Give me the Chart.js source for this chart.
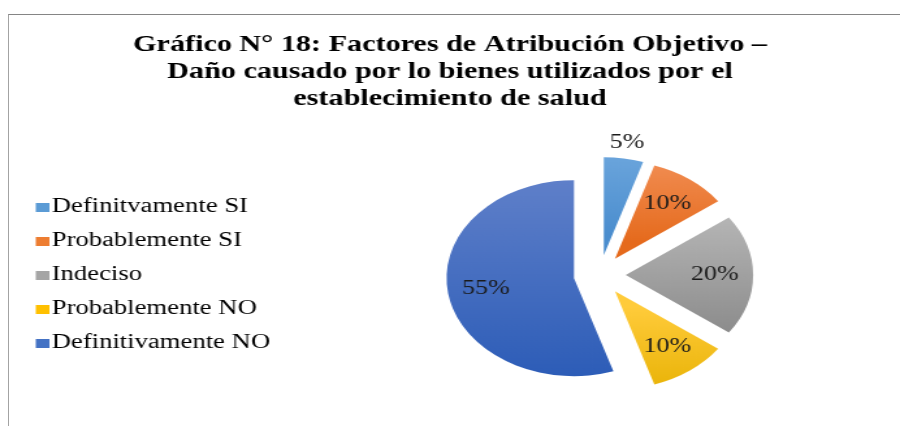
<!DOCTYPE html>
<html lang="es">
<head>
    <meta charset="UTF-8">
    <title>Gráfico N° 18</title>
    <script src="https://cdn.jsdelivr.net/npm/chart.js"></script>
    <style>
        html, body {
            margin: 0;
            padding: 0;
            background: #fff;
        }
        body {
            width: 900px;
            height: 426px;
            position: relative;
            overflow: hidden;
        }
        .frame {
            position: absolute;
            left: 8px;
            top: 14px;
            width: 892px;
            height: 412px;
            border-top: 1px solid #858585;
            border-left: 1px solid #a3a3a3;
        }
        /* the original picture is stretched sideways, so the chart is too */
        .chart-box {
            position: absolute;
            left: 0;
            top: 0;
            width: 692px;
            height: 426px;
            transform: scaleX(1.3006);
            transform-origin: 0 0;
        }
    </style>
</head>
<body>
    <div class="frame"></div>
    <div class="chart-box">
        <canvas id="pieChart"></canvas>
    </div>

    <script>
        const categories = ['Definitvamente SI', 'Probablemente SI', 'Indeciso', 'Probablemente NO', 'Definitivamente NO'];
        const percentages = [5, 10, 20, 10, 55];
        const titleLines = [
            'Gráfico N° 18: Factores de Atribución Objetivo –',
            'Daño causado por lo bienes utilizados por el',
            'establecimiento de salud'
        ];

        const baseColors = ['#5B9BD5', '#ED7D31', '#A5A5A5', '#FFC000', '#4472C4'];
        const topColors = ['#72AADF', '#F3925A', '#B5B5B5', '#FFCB3A', '#5E7FC9'];
        const bottomColors = ['#4A8DCE', '#E56A1C', '#8C8C8C', '#E6B000', '#2C5CB7'];

        const PIE_RADIUS = 98;
        const EXPLODE = 20;
        const serif = "'Liberation Serif', 'Times New Roman', serif";

        const total = percentages.reduce((a, b) => a + b, 0);

        // vertical gradient per slice, like the office chart
        function sliceFill(c) {
            const i = c.dataIndex;
            const area = c.chart.chartArea;
            if (!area) return baseColors[i];
            const before = percentages.slice(0, i).reduce((a, b) => a + b, 0);
            const a0 = -Math.PI / 2 + 2 * Math.PI * before / total;
            const a1 = a0 + 2 * Math.PI * percentages[i] / total;
            const mid = (a0 + a1) / 2;
            const cy = (area.top + area.bottom) / 2 + Math.sin(mid) * EXPLODE;
            const ys = [cy];
            for (let k = 0; k <= 24; k++) {
                ys.push(cy + Math.sin(a0 + (a1 - a0) * k / 24) * PIE_RADIUS);
            }
            const g = c.chart.ctx.createLinearGradient(0, Math.min(...ys), 0, Math.max(...ys));
            g.addColorStop(0, topColors[i]);
            g.addColorStop(1, bottomColors[i]);
            return g;
        }

        // small legend swatch sitting close to its text
        function swatch(color) {
            const c = document.createElement('canvas');
            c.width = 32;
            c.height = 9;
            const g = c.getContext('2d');
            g.fillStyle = color;
            g.fillRect(22, 0, 10, 9);
            return c;
        }
        const swatches = baseColors.map(swatch);

        const widenLegend = {
            id: 'widenLegend',
            beforeInit(chart) {
                const fit = chart.legend.fit;
                chart.legend.fit = function () {
                    fit.call(this);
                    this.width += 12.5;
                };
            }
        };

        // exploded slices + percentage labels
        const explodedPie = {
            id: 'explodedPie',
            beforeDatasetDraw(chart, args) {
                const ctx = chart.ctx;
                args.meta.data.forEach((arc) => {
                    const mid = (arc.startAngle + arc.endAngle) / 2;
                    ctx.save();
                    ctx.translate(Math.cos(mid) * EXPLODE, Math.sin(mid) * EXPLODE);
                    arc.draw(ctx);
                    ctx.restore();
                });
                return false;
            },
            afterDatasetsDraw(chart) {
                const ctx = chart.ctx;
                const meta = chart.getDatasetMeta(0);
                ctx.save();
                ctx.font = '20px ' + serif;
                ctx.fillStyle = '#1a1a1a';
                ctx.textAlign = 'center';
                ctx.textBaseline = 'middle';
                meta.data.forEach((arc, i) => {
                    const mid = (arc.startAngle + arc.endAngle) / 2;
                    const r = percentages[i] / total < 0.08
                        ? arc.outerRadius + EXPLODE + 16
                        : EXPLODE + 0.7 * arc.outerRadius;
                    ctx.fillText(percentages[i] + '%', arc.x + Math.cos(mid) * r, arc.y + Math.sin(mid) * r);
                });
                ctx.restore();
            }
        };

        const ctx = document.getElementById('pieChart').getContext('2d');
        new Chart(ctx, {
            type: 'pie',
            data: {
                labels: categories,
                datasets: [{
                    data: percentages,
                    backgroundColor: sliceFill,
                    borderWidth: 0,
                    hoverOffset: 0,
                    radius: PIE_RADIUS
                }]
            },
            options: {
                responsive: true,
                maintainAspectRatio: false,
                animation: false,
                events: [],
                layout: { padding: 0 },
                plugins: {
                    title: {
                        display: true,
                        text: titleLines,
                        color: '#000',
                        font: { family: serif, size: 23.2, weight: 'bold', lineHeight: '27px' },
                        padding: { top: 31.5, bottom: 11.5 }
                    },
                    legend: {
                        display: true,
                        position: 'left',
                        align: 'center',
                        fullSize: false,
                        labels: {
                            usePointStyle: true,
                            pointStyleWidth: 16,
                            padding: 13.5,
                            color: '#1a1a1a',
                            textAlign: 'left',
                            font: { family: serif, size: 20.5 },
                            generateLabels: () => categories.map((text, i) => ({
                                text: text,
                                fillStyle: baseColors[i],
                                strokeStyle: baseColors[i],
                                lineWidth: 0,
                                pointStyle: swatches[i],
                                hidden: false,
                                index: i
                            }))
                        }
                    },
                    tooltip: { enabled: false }
                }
            },
            plugins: [widenLegend, explodedPie]
        });
    </script>
</body>
</html>
